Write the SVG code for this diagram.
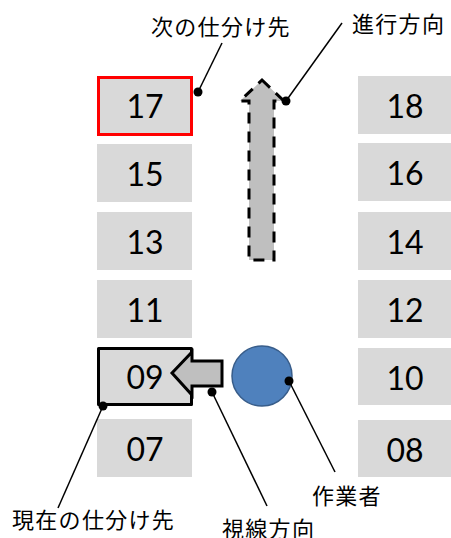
<svg xmlns="http://www.w3.org/2000/svg" width="451" height="538" viewBox="0 0 451 538">
<style>
.box{fill:#d9d9d9}
.num{font-family:Lato,"Liberation Sans",sans-serif;font-size:32px;fill:#000;text-anchor:middle}
.lbl{font-family:"Noto Sans CJK JP",sans-serif;font-size:22px;letter-spacing:1.3px;fill:#000}
.lead{stroke:#000;stroke-width:1.5;fill:none}
.dot{fill:#000}
</style>
<rect width="451" height="538" fill="#fff"/>
<g id="slot17"><rect class="box" x="98.5" y="77.5" width="93" height="57" fill="#d9d9d9" stroke="#ff0000" stroke-width="3"/><text class="num" x="145" y="118">17</text></g>
<g id="slot15"><rect class="box" x="97" y="144" width="95" height="58"/><text class="num" x="145" y="186">15</text></g>
<g id="slot13"><rect class="box" x="97" y="212" width="95" height="58"/><text class="num" x="145" y="254">13</text></g>
<g id="slot11"><rect class="box" x="97" y="280" width="95" height="58"/><text class="num" x="145" y="322">11</text></g>
<g id="slot09"><rect class="box" x="98.5" y="348.5" width="93" height="56" stroke="#000" stroke-width="3" stroke-linejoin="round"/><text class="num" x="145" y="389">09</text></g>
<g id="slot07"><rect class="box" x="97" y="419" width="95" height="58"/><text class="num" x="145" y="461">07</text></g>
<g id="slot18"><rect class="box" x="358" y="76" width="95" height="58"/><text class="num" x="405" y="118">18</text></g>
<g id="slot16"><rect class="box" x="358" y="143" width="95" height="58"/><text class="num" x="405" y="185">16</text></g>
<g id="slot14"><rect class="box" x="358" y="212" width="95" height="58"/><text class="num" x="405" y="254">14</text></g>
<g id="slot12"><rect class="box" x="358" y="280" width="95" height="58"/><text class="num" x="405" y="322">12</text></g>
<g id="slot10"><rect class="box" x="358" y="348" width="95" height="57"/><text class="num" x="405" y="390">10</text></g>
<g id="slot08"><rect class="box" x="358" y="420" width="95" height="57"/><text class="num" x="405" y="462">08</text></g>
<g id="gaze-arrow"><polygon points="172,373 192,352 192,361 222,361 222,386 192,386 192,395" fill="#bfbfbf" stroke="#000" stroke-width="3" stroke-linejoin="miter"/></g>
<g id="travel-arrow"><polygon points="262,80 284,101 274,101 274,260 249,260 249,101 240,101" fill="#bfbfbf" stroke="#000" stroke-width="3" stroke-dasharray="11,8"/></g>
<g id="worker"><circle cx="262" cy="376" r="30" fill="#4f81bd" stroke="#385d8a" stroke-width="1.5"/></g>
<g id="connectors">
<line class="lead" x1="198" y1="92" x2="222" y2="43"/><circle class="dot" cx="198" cy="92" r="4.5"/>
<line class="lead" x1="286" y1="101" x2="342" y2="23"/><circle class="dot" cx="286" cy="101" r="4.5"/>
<line class="lead" x1="103" y1="406" x2="58" y2="508"/><circle class="dot" cx="103" cy="406" r="4.5"/>
<line class="lead" x1="212" y1="392" x2="267" y2="506"/><circle class="dot" cx="212" cy="392" r="4.5"/>
<line class="lead" x1="289" y1="381" x2="335" y2="472"/><circle class="dot" cx="289" cy="381" r="4.5"/>
</g>
<g id="labels">
<text class="lbl" x="151" y="35">次の仕分け先</text>
<text class="lbl" x="352" y="32">進行方向</text>
<text class="lbl" x="12" y="528">現在の仕分け先</text>
<text class="lbl" x="222" y="537">視線方向</text>
<text class="lbl" x="312" y="504">作業者</text>
</g>
</svg>
